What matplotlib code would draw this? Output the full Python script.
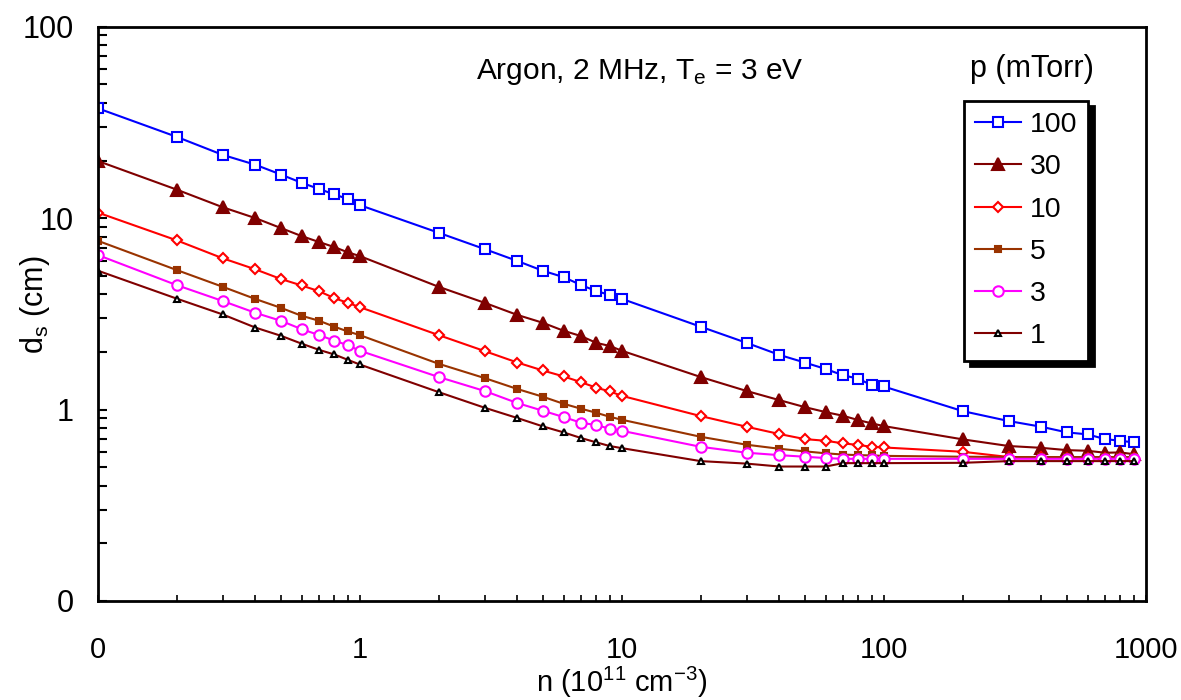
import matplotlib
matplotlib.use("Agg")
import matplotlib.pyplot as plt
from matplotlib import font_manager
from matplotlib.ticker import FixedLocator, LogLocator, FuncFormatter, NullFormatter

plt.rcParams['font.family'] = ['Liberation Sans', 'DejaVu Sans']
plt.rcParams['mathtext.fontset'] = 'custom'
plt.rcParams['mathtext.rm'] = 'Liberation Sans'

try:
    font_manager.findfont('Liberation Sans Narrow', fallback_to_default=False)
    NARROW = ['Liberation Sans Narrow', 'Liberation Sans', 'DejaVu Sans']
    XFS = 24
except Exception:
    NARROW = ['Liberation Sans', 'DejaVu Sans']
    XFS = 21

# density n (10^11 cm^-3)
n = [0.1, 0.2, 0.3, 0.4, 0.5, 0.6, 0.7, 0.8, 0.9,
     1, 2, 3, 4, 5, 6, 7, 8, 9,
     10, 20, 30, 40, 50, 60, 70, 80, 90,
     100, 200, 300, 400, 500, 600, 700, 800, 900]

# sheath width d_s (cm) per pressure (mTorr)
p100 = [37.5, 26.6, 21.4, 19.0, 16.9, 15.3, 14.2, 13.3, 12.6,
        11.7, 8.39, 6.89, 5.97, 5.31, 4.92, 4.47, 4.16, 3.97,
        3.79, 2.71, 2.23, 1.93, 1.76, 1.63, 1.51, 1.45, 1.34,
        1.32, 0.982, 0.871, 0.813, 0.760, 0.742, 0.701, 0.687, 0.674]
p30 = [19.9, 14.1, 11.4, 10.0, 8.88, 8.06, 7.50, 7.06, 6.63,
       6.34, 4.38, 3.61, 3.12, 2.84, 2.58, 2.42, 2.23, 2.15,
       2.03, 1.48, 1.25, 1.12, 1.03, 0.97, 0.928, 0.881, 0.847,
       0.820, 0.699, 0.645, 0.631, 0.614, 0.609, 0.595, 0.597, 0.585]
p10 = [10.7, 7.66, 6.17, 5.40, 4.81, 4.45, 4.15, 3.82, 3.61,
       3.43, 2.45, 2.02, 1.76, 1.60, 1.49, 1.39, 1.30, 1.245,
       1.18, 0.925, 0.813, 0.745, 0.701, 0.687, 0.666, 0.653, 0.639,
       0.634, 0.602, 0.565, 0.562, 0.56, 0.56, 0.56, 0.56, 0.56]
p5 = [7.62, 5.36, 4.38, 3.78, 3.40, 3.09, 2.91, 2.71, 2.56,
      2.45, 1.735, 1.46, 1.28, 1.167, 1.072, 1.010, 0.962, 0.917,
      0.885, 0.721, 0.655, 0.624, 0.605, 0.591, 0.582, 0.578, 0.576,
      0.573, 0.567, 0.565, 0.565, 0.565, 0.565, 0.565, 0.565, 0.565]
p3 = [6.42, 4.47, 3.69, 3.20, 2.91, 2.63, 2.45, 2.29, 2.17,
      2.03, 1.48, 1.25, 1.081, 0.986, 0.914, 0.853, 0.830, 0.794,
      0.775, 0.639, 0.595, 0.578, 0.567, 0.558, 0.553, 0.553, 0.553,
      0.553, 0.553, 0.553, 0.553, 0.553, 0.553, 0.553, 0.553, 0.553]
p1 = [5.32, 3.80, 3.14, 2.68, 2.43, 2.21, 2.05, 1.94, 1.82,
      1.72, 1.234, 1.022, 0.903, 0.817, 0.760, 0.710, 0.674, 0.645,
      0.629, 0.538, 0.522, 0.504, 0.504, 0.504, 0.525, 0.525, 0.525,
      0.525, 0.527, 0.538, 0.538, 0.538, 0.538, 0.538, 0.538, 0.538]

labels = ["100", "30", "10", "5", "3", "1"]
series = [p100, p30, p10, p5, p3, p1]
line_colors = ["#0000FF", "#800000", "#FF0000", "#993300", "#FF00FF", "#800000"]
markers = ["s", "^", "D", "s", "o", "^"]
msizes = [7.5, 8, 5.5, 4.5, 7.5, 5]
mfaces = ["white", "#800000", "white", "#993300", "white", "white"]
medges = ["#0000FF", "#800000", "#FF0000", "#993300", "#FF00FF", "black"]

fig = plt.figure(figsize=(11.81, 7.0), dpi=100)
ax = fig.add_axes([97.7 / 1181, 1 - 601 / 700, (1145.7 - 97.7) / 1181, (601 - 26.7) / 700])

for y, lab, lc, mk, ms, mf, me in zip(series, labels, line_colors, markers, msizes, mfaces, medges):
    ax.plot(n, y, color=lc, lw=1.5, marker=mk, markersize=ms,
            markerfacecolor=mf, markeredgecolor=me, markeredgewidth=1.5, label=lab)

ax.set_xscale('log')
ax.set_yscale('log')
ax.set_xlim(0.1, 1000)
ax.set_ylim(0.1, 100)

def fmt(v, pos):
    if v < 1:
        return "0"
    return "%d" % round(v)

ax.xaxis.set_major_locator(FixedLocator([0.1, 1, 10, 100, 1000]))
ax.yaxis.set_major_locator(FixedLocator([0.1, 1, 10, 100]))
ax.xaxis.set_major_formatter(FuncFormatter(fmt))
ax.yaxis.set_major_formatter(FuncFormatter(fmt))
ax.xaxis.set_minor_locator(LogLocator(base=10, subs=range(2, 10)))
ax.yaxis.set_minor_locator(LogLocator(base=10, subs=range(2, 10)))
ax.xaxis.set_minor_formatter(NullFormatter())
ax.yaxis.set_minor_formatter(NullFormatter())

ax.tick_params(axis='x', which='both', direction='in', length=4, width=1.2,
               labelsize=XFS, pad=25, top=False)
ax.tick_params(axis='y', which='both', direction='in', length=6.5, width=1.5,
               labelsize=22, pad=17.5, right=False)
for lbl in ax.get_xticklabels():
    lbl.set_fontfamily(NARROW)
for s in ax.spines.values():
    s.set_linewidth(2)

ax.set_xlabel(r"n (10$^{\mathregular{11}}$ cm$^{\mathregular{-3}}$)", fontsize=XFS,
              fontfamily=NARROW, va='center')
ax.xaxis.set_label_coords(0.5, (601 - 682) / 574.3)
ax.set_ylabel(r"d$_{\mathregular{s}}$ (cm)", fontsize=22, va='center')
ax.yaxis.set_label_coords((35 - 97.7) / 1048, (601 - 305) / 574.3)

fig.text(640 / 1181, 1 - 72 / 700, r"Argon, 2 MHz, T$_{\mathregular{e}}$ = 3 eV",
         fontsize=21.5, ha='center', va='center')
fig.text(1032 / 1181, 1 - 69 / 700, "p (mTorr)", fontsize=22, ha='center', va='center')

leg = ax.legend(loc='upper left', bbox_to_anchor=(964 / 1181, 1 - 100.7 / 700),
                bbox_transform=fig.transFigure, borderaxespad=0, fontsize=20.5,
                frameon=True, fancybox=False, edgecolor='black', framealpha=1,
                shadow={'color': 'black', 'alpha': 1, 'ox': 4, 'oy': -4},
                handlelength=1.6, handletextpad=0.3, labelspacing=0.57,
                borderpad=0.4)
leg.get_frame().set_linewidth(2)

fig.savefig("out.png", dpi=100)
